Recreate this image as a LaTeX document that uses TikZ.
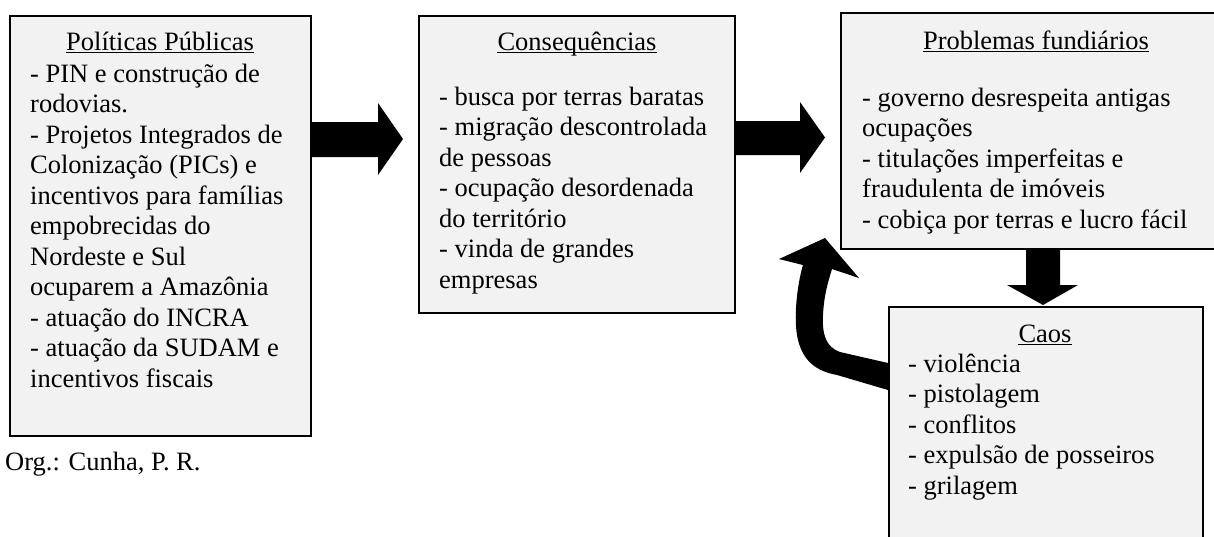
\documentclass[tikz,border=0pt]{standalone}
\usepackage{fontspec}
\setmainfont{Liberation Serif}
\definecolor{boxgray}{HTML}{F2F2F2}
\begin{document}
\begin{tikzpicture}[x=1pt,y=-1pt,
  box/.style={draw=black, line width=1.5pt, fill=boxgray, inner sep=0pt, anchor=north west},
  ttl/.style={inner sep=0pt, anchor=base, font=\fontsize{26.5}{30.5}\selectfont},
  body/.style={inner sep=0pt, anchor=base west, font=\fontsize{26.5}{30.5}\selectfont},
  uline/.style={line width=1.3pt},
  blk/.style={fill=black}]
\useasboundingbox (0,0) rectangle (1214,536);
\clip (0,0) rectangle (1214,536);
% boxes
\node[box, minimum width=301pt, minimum height=420pt] (b1) at (9,15) {};
\node[box, minimum width=316pt, minimum height=297pt] (b2) at (418,15) {};
\node[box, minimum width=380pt, minimum height=236pt] (b3) at (840,12) {};
\node[box, minimum width=314pt, minimum height=240pt] (b4) at (888,306) {};
% titles
\node[ttl] (t1) at (160,50) {Políticas Públicas};
\node[ttl] (t2) at (577,50) {Consequências};
\node[ttl] (t3) at (1036,49) {Problemas fundiários};
\node[ttl] (t4) at (1045,342) {Caos};
\foreach \t in {t1,t2,t3,t4}
  \draw[uline] ([yshift=-2.2pt]\t.base west) -- ([yshift=-2.2pt]\t.base east);
% bodies
\node[body] (x1) at (30,82) {\begin{tabular}[t]{@{}l@{}}
- PIN e construção de\\
rodovias.\\
- Projetos Integrados de\\
Colonização (PICs) e\\
incentivos para famílias\\
empobrecidas do\\
Nordeste e Sul\\
ocuparem a Amazônia\\
- atuação do INCRA\\
- atuação da SUDAM e\\
incentivos fiscais\end{tabular}};
\node[body] (x2) at (439,105) {\begin{tabular}[t]{@{}l@{}}
- busca por terras baratas\\
- migração descontrolada\\
de pessoas\\
- ocupação desordenada\\
do território\\
- vinda de grandes\\
empresas\end{tabular}};
\node[body] (x3) at (862,106) {\begin{tabular}[t]{@{}l@{}}
- governo desrespeita antigas\\
ocupações\\
- titulações imperfeitas e\\
fraudulenta de imóveis\\
- cobiça por terras e lucro fácil\end{tabular}};
\node[body] (x4) at (908,372) {\begin{tabular}[t]{@{}l@{}}
- violência\\
- pistolagem\\
- conflitos\\
- expulsão de posseiros\\
- grilagem\end{tabular}};
\node[body] (org) at (5,470) {Org.: Cunha, P. R.};
% block arrows
\fill[blk] (b1.east |- {(0,122)}) -- (378,122) -- (378,103) -- (403,139) -- (378,175) -- (378,157) -- (b1.east |- {(0,157)}) -- cycle;
\fill[blk] (b2.east |- {(0,121)}) -- (800,121) -- (800,102) -- (825,137.5) -- (800,173) -- (800,155) -- (b2.east |- {(0,155)}) -- cycle;
\fill[blk] ({(1026,0)} |- b3.south) -- (1026,285) -- (1007,285) -- (1043,305) -- (1078,285) -- (1060,285) -- ({(1060,0)} |- b3.south) -- cycle;
% curved arrow from Caos back
\fill[blk] (b4.west |- {(0,363)}) -- (840,352) .. controls (826,347) and (822,335) .. (823,315)
  .. controls (824,295) and (828,282) .. (832,269) -- (859,278) -- (825,238) -- (779,259) -- (803,265)
  .. controls (797,285) and (793,320) .. (798,340) .. controls (803,360) and (815,371) .. (837,375)
  -- (b4.west |- {(0,390)}) -- cycle;
\end{tikzpicture}
\end{document}
